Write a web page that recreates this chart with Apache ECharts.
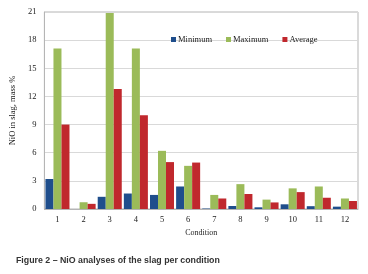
<!DOCTYPE html>
<html>
<head>
<meta charset="utf-8">
<script src="https://cdn.jsdelivr.net/npm/echarts@6/dist/echarts.min.js"></script>
<style>
html,body{margin:0;padding:0;background:#fff;}
#main{width:368px;height:274px;}
</style>
</head>
<body>
<div id="main"></div>
<script>
// NiO in slag per condition, mass %
var conditions = ['1','2','3','4','5','6','7','8','9','10','11','12'];
var minimum = [3.2, 0, 1.3, 1.65, 1.5, 2.4, 0.05, 0.32, 0.18, 0.5, 0.3, 0.25];
var maximum = [17.1, 0.72, 20.9, 17.1, 6.2, 4.6, 1.5, 2.65, 1.0, 2.2, 2.4, 1.12];
var average = [9.0, 0.55, 12.8, 10.0, 5.0, 4.95, 1.12, 1.6, 0.7, 1.8, 1.2, 0.85];
var yTicks = [0, 3, 6, 9, 12, 15, 18, 21];

var chart = echarts.init(document.getElementById('main'));
var serif = 'Liberation Serif';
chart.setOption({
	animation: false,
	title: {
		text: 'Figure 2 – NiO analyses of the slag per condition',
		left: 11,
		top: 251,
		textStyle: {
			fontFamily: 'Liberation Sans',
			fontWeight: 'bold',
			fontSize: 8.8,
			color: '#333'
		}
	},
	color: ['#1f4e8c', '#9bbb59', '#c0282d'],
	legend: {
		data: ['Minimum', 'Maximum', 'Average'],
		left: 166,
		top: 30,
		itemWidth: 5,
		itemHeight: 5,
		itemGap: 14,
		icon: 'rect',
		textStyle: {fontFamily: serif, fontSize: 8.5, color: '#222', padding: [0, 0, 0, -3]}
	},
	grid: {
		left: 39, right: 10, top: 12, bottom: 65,
		show: true, borderColor: '#b5b5b5', borderWidth: 1
	},
	xAxis: {
		type: 'category',
		data: conditions,
		name: 'Condition',
		nameLocation: 'middle',
		nameGap: 20,
		nameTextStyle: {fontFamily: serif, fontSize: 8, color: '#222'},
		axisTick: {show: false},
		axisLine: {lineStyle: {color: '#b5b5b5'}},
		axisLabel: {fontFamily: serif, fontSize: 8.5, color: '#222', margin: 6}
	},
	yAxis: {
		type: 'value',
		min: yTicks[0],
		max: yTicks[yTicks.length - 1],
		interval: 3,
		name: 'NiO in slag, mass %',
		nameLocation: 'middle',
		nameGap: 20,
		nameTextStyle: {fontFamily: serif, fontSize: 8.5, color: '#222'},
		axisLine: {show: true, lineStyle: {color: '#b5b5b5'}},
		axisTick: {show: false},
		axisLabel: {fontFamily: serif, fontSize: 8.5, color: '#222', margin: 8},
		splitLine: {lineStyle: {color: '#d9d9d9'}}
	},
	series: [
		{name: 'Minimum', type: 'bar', data: minimum, barGap: '0%', barCategoryGap: '8%'},
		{name: 'Maximum', type: 'bar', data: maximum, barGap: '0%', barCategoryGap: '8%'},
		{name: 'Average', type: 'bar', data: average, barGap: '0%', barCategoryGap: '8%'}
	]
});
</script>
</body>
</html>
